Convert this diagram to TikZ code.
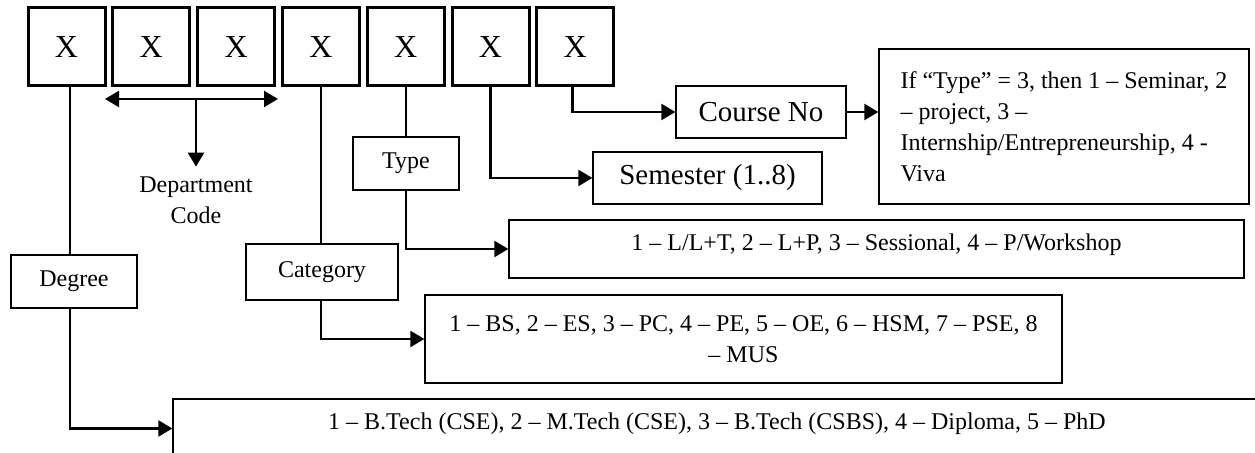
\documentclass[tikz,border=0pt]{standalone}
\usepackage{fontspec}
\setmainfont{Liberation Serif}
\usepackage{tikz}
\usetikzlibrary{arrows.meta, positioning}

\newcommand{\smalltxt}{\fontsize{12}{15.5}\selectfont}
\newcommand{\largetxt}{\fontsize{14.5}{17}\selectfont}

\begin{document}
\begin{tikzpicture}[x=0.5pt, y=-0.5pt,
    digit/.style={draw, line width=1.5pt, minimum width=38.5pt, minimum height=39pt, font=\fontsize{16}{19}\selectfont},
    field/.style={draw, line width=0.65pt, minimum height=26.5pt, font=\smalltxt},
    bigfield/.style={draw, line width=0.65pt, minimum height=26pt, font=\largetxt},
    codebox/.style={draw, line width=0.65pt, font=\smalltxt, align=center},
    lowtext/.style={text height=8.3pt, text depth=7pt},
    link/.style={line width=1.2pt},
    tolink/.style={line width=1.2pt, -{Triangle[length=7pt, width=8pt]}}]
    \useasboundingbox (0,0) rectangle (1255,453);

    % code digits
    \node[digit] (x1) at (66.5,47) {X};
    \node[digit, right=2.4pt of x1] (x2) {X};
    \node[digit, right=2.4pt of x2] (x3) {X};
    \node[digit, right=2.4pt of x3] (x4) {X};
    \node[digit, right=2.4pt of x4] (x5) {X};
    \node[digit, right=2.4pt of x5] (x6) {X};
    \node[digit, right=2.4pt of x6] (x7) {X};

    % fields
    \node[bigfield, minimum width=85pt] (course) at (761,112) {Course No};
    \node[codebox, minimum width=185pt, minimum height=77.5pt, align=left] (courseinfo) at (1064,126.5) {If “Type” = 3, then 1 – Seminar, 2\\– project, 3 –\\Internship/Entrepreneurship, 4 -\\Viva};
    \node[bigfield, minimum width=114.5pt] (sem) at (707.5,178) {Semester (1..8)};
    \node[field, minimum width=53pt] (type) at (406,163.5) {Type};
    \node[codebox, lowtext, minimum width=367.5pt, minimum height=29pt] (typecodes) at (876.5,249) {1 – L/L+T, 2 – L+P, 3 – Sessional, 4 – P/Workshop};
    \node[field, minimum width=76pt, minimum height=28pt] (cat) at (322,272) {Category};
    \node[codebox, minimum width=318.5pt, minimum height=44pt] (catcodes) at (743.5,339) {1 – BS, 2 – ES, 3 – PC, 4 – PE, 5 – OE, 6 – HSM, 7 – PSE, 8\\– MUS};
    \node[field, minimum width=63pt] (degree) at (74,281.5) {Degree};
    \node[codebox, lowtext, minimum width=544pt, minimum height=29.5pt] (degcodes) at (717,428.5) {1 – B.Tech (CSE), 2 – M.Tech (CSE), 3 – B.Tech (CSBS), 4 – Diploma, 5 – PhD};
    \node[font=\smalltxt, align=center, inner ysep=5pt] (dept) at (196,200.5) {Department\\Code};

    % department span
    \coordinate (deptl) at (105,99);
    \coordinate (deptr) at (278,99);
    \draw[line width=1.2pt, {Triangle[length=7pt, width=8pt]}-{Triangle[length=7pt, width=8pt]}] (deptl) -- (deptr);
    \draw[tolink] (dept.north |- deptl) -- (dept.north);

    % links
    \draw[link] ([xshift=1.75pt]x1.south) -- ([xshift=1.75pt]x1.south |- degree.north);
    \draw[tolink] ([xshift=1.75pt]x1.south |- degree.south) |- (degcodes.west);
    \draw[link] (x4.south) -- (x4.south |- cat.north);
    \draw[tolink] (x4.south |- cat.south) |- (catcodes.west);
    \draw[link] (x5.south) -- (x5.south |- type.north);
    \draw[tolink] (x5.south |- type.south) |- (typecodes.west);
    \draw[tolink] (x6.south) |- (sem.west);
    \draw[tolink] ([xshift=-1.5pt]x7.south) |- (course.west);
    \draw[tolink] (course.east) -- (course.east -| courseinfo.west);
\end{tikzpicture}
\end{document}
